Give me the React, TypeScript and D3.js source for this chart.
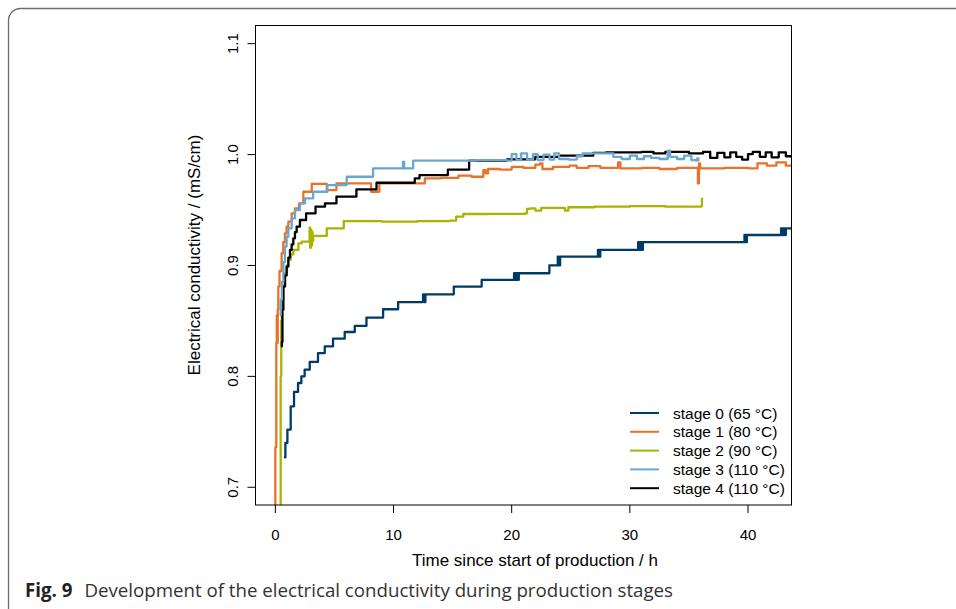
import React from 'react';
import * as d3 from 'd3';

// time since start of production (h), conductivity (mS/cm)
const stage0: [number, number][] = [
  [0.73, 0.727], [0.85, 0.74], [1.02, 0.752], [1.3, 0.773], [1.58, 0.786], [1.92, 0.794],
  [2.2, 0.8], [2.48, 0.806], [2.91, 0.813], [3.61, 0.821], [4.18, 0.827], [4.88, 0.834],
  [5.87, 0.84], [6.72, 0.8455], [7.71, 0.853], [9.12, 0.8605], [10.39, 0.867],
  [12.5, 0.874], [12.6, 0.867], [12.7, 0.874], [15.1, 0.881], [17.46, 0.887],
  [20.2, 0.893], [20.3, 0.887], [20.4, 0.893], [20.5, 0.887], [20.6, 0.893],
  [23.19, 0.9], [23.9, 0.908], [24.0, 0.9], [24.1, 0.908], [27.3, 0.914], [27.4, 0.908],
  [27.5, 0.914], [30.7, 0.921], [30.8, 0.914], [30.9, 0.921], [31.0, 0.914], [31.1, 0.921],
  [39.7, 0.9275], [39.8, 0.921], [39.9, 0.9275], [42.8, 0.9335], [42.9, 0.9275],
  [43.0, 0.9335], [43.1, 0.9275], [43.2, 0.9335], [44.5, 0.9335],
];

const stage1: [number, number][] = [
  [-0.03, 0.62], [0.0, 0.736], [0.08, 0.83], [0.12, 0.855], [0.16, 0.83], [0.2, 0.86],
  [0.25, 0.881], [0.35, 0.895], [0.53, 0.911], [0.67, 0.921], [0.81, 0.929], [0.95, 0.935],
  [1.1, 0.9395], [1.38, 0.947], [1.66, 0.9515], [2.0, 0.956], [2.37, 0.9665], [3.08, 0.9735],
  [4.35, 0.968], [5.17, 0.974], [8.1, 0.9665], [8.8, 0.974], [12.65, 0.9785], [14.0, 0.979],
  [15.5, 0.981], [16.6, 0.98], [17.6, 0.986], [17.8, 0.983], [18.0, 0.987], [19.0, 0.9865],
  [20.0, 0.989], [21.0, 0.988], [22.0, 0.991], [22.4, 0.992], [22.6, 0.987], [23.5, 0.989],
  [24.9, 0.99], [25.5, 0.988], [26.5, 0.9895], [27.5, 0.988], [29.0, 0.993], [29.2, 0.9875],
  [31.0, 0.988], [32.5, 0.987], [34.0, 0.988], [35.7, 0.9875], [35.76, 0.974], [35.85, 0.992],
  [35.95, 0.9875], [38.0, 0.988], [40.0, 0.9875], [40.8, 0.992], [41.6, 0.99], [42.4, 0.993],
  [43.2, 0.99], [44.5, 0.992],
];

const stage2: [number, number][] = [
  [0.4, 0.6], [0.45, 0.8], [0.5, 0.85], [0.55, 0.869], [0.68, 0.882], [0.81, 0.893],
  [0.95, 0.9], [1.1, 0.905], [1.3, 0.91], [1.52, 0.914], [1.95, 0.92], [2.23, 0.9215],
  [2.9, 0.934], [2.95, 0.916], [3.0, 0.932], [3.05, 0.918], [3.1, 0.93], [3.15, 0.922],
  [3.2, 0.9266], [4.35, 0.9335], [5.79, 0.94], [9.0, 0.9395], [12.0, 0.94], [14.77, 0.9405],
  [15.3, 0.944], [15.9, 0.9464], [18.0, 0.9465], [21.1, 0.947], [21.3, 0.951], [21.55, 0.9515],
  [22.0, 0.9495], [22.5, 0.952], [24.0, 0.952], [24.5, 0.9495], [24.8, 0.9525], [27.0, 0.953],
  [30.0, 0.9535], [33.0, 0.953], [36.05, 0.9535], [36.1, 0.961],
];

const stage3: [number, number][] = [
  [0.38, 0.855], [0.45, 0.869], [0.55, 0.885], [0.68, 0.903], [0.81, 0.917], [0.95, 0.926],
  [1.1, 0.9335], [1.38, 0.9425], [1.66, 0.95], [2.08, 0.956], [2.51, 0.9605], [3.2, 0.9665],
  [4.4, 0.9725], [6.04, 0.98], [8.27, 0.9875], [10.8, 0.9935], [10.9, 0.9875], [11.66, 0.9945],
  [14.0, 0.9945], [17.0, 0.995], [19.6, 0.9945], [20.0, 1.0005], [20.4, 0.995], [20.8, 1.001],
  [21.3, 0.9955], [21.8, 1.0005], [22.2, 0.995], [22.7, 1.0], [23.2, 0.9955], [23.6, 1.001],
  [24.0, 0.996], [24.8, 0.9955], [25.5, 0.9985], [26.0, 1.001], [28.6, 0.998], [29.3, 0.996],
  [30.0, 0.999], [30.6, 0.996], [31.2, 0.9985], [31.8, 0.997], [32.5, 0.996], [33.2, 1.0035],
  [33.4, 0.998], [34.0, 0.996], [34.6, 0.999], [35.2, 0.995], [35.6, 0.9945], [35.7, 0.9965],
  [35.8, 0.994],
];

const stage4: [number, number][] = [
  [0.5, 0.827], [0.55, 0.831], [0.6, 0.86], [0.68, 0.881], [0.82, 0.891], [0.96, 0.899],
  [1.1, 0.907], [1.24, 0.914], [1.38, 0.919], [1.52, 0.9245], [1.66, 0.93], [1.8, 0.935],
  [2.08, 0.941], [2.6, 0.947], [3.4, 0.953], [4.2, 0.956], [5.17, 0.962], [6.86, 0.9686],
  [8.56, 0.9746], [11.8, 0.9785], [12.2, 0.9815], [14.6, 0.9865], [16.4, 0.9945],
  [19.6, 0.9957], [22.0, 0.998], [24.0, 0.999], [26.9, 1.0015], [28.0, 1.002], [31.0, 1.0025],
  [32.0, 1.001], [33.0, 1.0025], [35.0, 1.001], [36.2, 1.0025], [36.8, 0.997], [37.4, 1.0015],
  [38.0, 0.9975], [38.5, 1.002], [39.0, 0.998], [39.5, 0.9955], [40.0, 1.0005], [40.4, 1.0025],
  [41.0, 0.998], [41.5, 1.002], [42.0, 0.9975], [42.6, 1.002], [43.2, 0.9985], [44.5, 1.0],
];

const legendLabels = [
  'stage 0 (65 °C)',
  'stage 1 (80 °C)',
  'stage 2 (90 °C)',
  'stage 3 (110 °C)',
  'stage 4 (110 °C)',
];
const colors = ['#003a66', '#e8722a', '#a8b400', '#6aa6d2', '#000000'];
const xTicks = [0, 10, 20, 30, 40];
const yTicks = [0.7, 0.8, 0.9, 1.0, 1.1];

const W = 956;
const H = 609;
const plot = { left: 255.5, right: 791.5, top: 25.5, bottom: 505 };
const axisFont = '"Liberation Sans", Arial, Helvetica, sans-serif';

export default function App() {
  const x = d3.scaleLinear().domain([-1.68, 43.68]).range([plot.left, plot.right]);
  const y = d3.scaleLinear().domain([0.684, 1.1164]).range([plot.bottom, plot.top]);

  const line = d3
    .line<[number, number]>()
    .x((d) => x(d[0]))
    .y((d) => y(d[1]))
    .curve(d3.curveStepAfter);

  const series = [stage0, stage1, stage2, stage3, stage4];
  // blue drawn over black, as in the original
  const drawOrder = [0, 1, 2, 4, 3];

  return (
    <svg width={W} height={H} style={{ position: 'absolute', left: 0, top: 0 }}>
      <defs>
        <clipPath id="plotClip">
          <rect x={plot.left} y={plot.top} width={plot.right - plot.left} height={plot.bottom - plot.top} />
        </clipPath>
      </defs>

      <rect x={8.5} y={8.5} width={1000} height={700} rx={12} fill="none" stroke="#6b6b6b" strokeWidth={1.3} />

      <g clipPath="url(#plotClip)">
        {drawOrder.map((i) => (
          <path
            key={i}
            d={line(series[i]) || ''}
            fill="none"
            stroke={colors[i]}
            strokeWidth={2.3}
            strokeLinejoin="round"
          />
        ))}
      </g>

      <rect
        x={plot.left}
        y={plot.top}
        width={plot.right - plot.left}
        height={plot.bottom - plot.top}
        fill="none"
        stroke="#000"
        strokeWidth={1}
      />

      {/* x axis */}
      <g fontFamily={axisFont} fill="#000">
        {xTicks.map((t) => (
          <g key={t}>
            <line x1={x(t)} x2={x(t)} y1={plot.bottom} y2={plot.bottom + 8} stroke="#000" />
            <text x={x(t)} y={539.5} textAnchor="middle" fontSize={15}>
              {t}
            </text>
          </g>
        ))}
        <text x={535} y={566} textAnchor="middle" fontSize={17}>
          Time since start of production / h
        </text>
      </g>

      {/* y axis */}
      <g fontFamily={axisFont} fill="#000">
        {yTicks.map((t) => (
          <g key={t}>
            <line x1={plot.left - 8} x2={plot.left} y1={y(t)} y2={y(t)} stroke="#000" />
            <text transform={`translate(238,${y(t)}) rotate(-90)`} textAnchor="middle" fontSize={15}>
              {d3.format('.1f')(t)}
            </text>
          </g>
        ))}
        <text transform={`translate(200,255) rotate(-90)`} textAnchor="middle" fontSize={17}>
          Electrical conductivity / (mS/cm)
        </text>
      </g>

      {/* legend */}
      <g fontFamily={axisFont} fontSize={15.5} fill="#000">
        {legendLabels.map((label, i) => {
          const ly = 413 + i * 18.8;
          return (
            <g key={label}>
              <line x1={630} x2={659} y1={ly} y2={ly} stroke={colors[i]} strokeWidth={2} />
              <text x={673} y={ly + 5.5}>
                {label}
              </text>
            </g>
          );
        })}
      </g>

      {/* caption */}
      <text x={25} y={597} fontFamily='"Open Sans", "Noto Sans", sans-serif' fontSize={18.7} fill="#333">
        <tspan fontWeight="bold" fill="#222">Fig. 9</tspan>
        <tspan dx={12}>Development of the electrical conductivity during production stages</tspan>
      </text>
    </svg>
  );
}
